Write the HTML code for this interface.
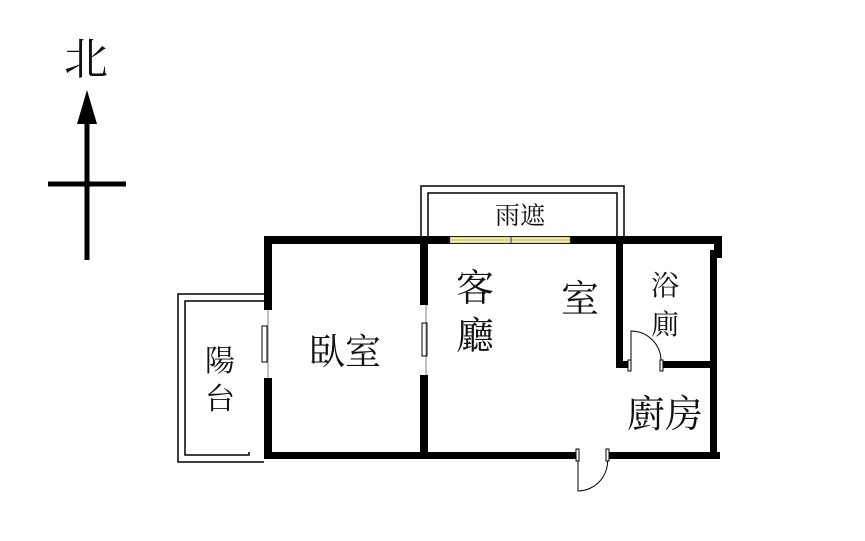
<!DOCTYPE html><html><head><meta charset="utf-8"><style>body{margin:0;background:#fff}svg{display:block}text{font-family:"Liberation Serif","Noto Serif CJK SC","Noto Sans CJK TC",serif;fill:#111}</style></head><body>
<svg width="865" height="541" viewBox="0 0 865 541">
<!-- compass -->
<text x="86" y="74" font-size="44" text-anchor="middle">北</text>
<line x1="87" y1="118" x2="87" y2="260" stroke="#000" stroke-width="5"/>
<polygon points="87,90 77,124 97,124" fill="#000"/>
<line x1="48" y1="184" x2="126" y2="184" stroke="#000" stroke-width="5"/>
<!-- canopy -->
<path d="M421,240 V186 H624 V240" fill="none" stroke="#000" stroke-width="1.5"/>
<path d="M428,240 V193 H617 V240" fill="none" stroke="#000" stroke-width="1.5"/>
<!-- balcony -->
<path d="M264,294 H178 V462 H264" fill="none" stroke="#000" stroke-width="1.5"/>
<path d="M264,301 H185 V455 H249 V452" fill="none" stroke="#000" stroke-width="1.5"/>
<g fill="#000">
<!-- top wall -->
<rect x="264" y="236" width="180" height="8"/>
<rect x="576" y="236" width="146" height="8"/>
<rect x="714" y="236" width="8" height="22"/>
<!-- left wall -->
<rect x="264" y="236" width="8" height="74"/>
<rect x="264" y="378" width="8" height="81"/>
<!-- middle wall -->
<rect x="420" y="236" width="8" height="69"/>
<rect x="420" y="375" width="8" height="84"/>
<!-- bottom -->
<rect x="264" y="452" width="314" height="7"/>
<rect x="608" y="452" width="112" height="7"/>
<!-- right -->
<rect x="710" y="250" width="7" height="209"/>
<!-- bath -->
<rect x="616" y="244" width="7" height="124"/>
<rect x="616" y="361" width="12" height="7"/>
<rect x="663" y="361" width="50" height="7"/>
</g>
<!-- window -->
<rect x="444" y="236" width="132" height="8" fill="#000"/>
<rect x="450" y="237" width="120" height="6" fill="#f3f0a0" stroke="#888" stroke-width="0.5"/>
<line x1="450" y1="240" x2="570" y2="240" stroke="#777" stroke-width="0.6"/>
<line x1="511" y1="237" x2="511" y2="243" stroke="#333" stroke-width="1"/>
<!-- door symbols -->
<rect x="262" y="326" width="5" height="36" fill="#fff" stroke="#000" stroke-width="1"/>
<line x1="268" y1="310" x2="268" y2="378" stroke="#000" stroke-width="0.5"/>
<rect x="422" y="323" width="5" height="33" fill="#fff" stroke="#000" stroke-width="1"/>
<line x1="426" y1="305" x2="426" y2="375" stroke="#000" stroke-width="0.5"/>
<path d="M631,368 V331 A30,30 0 0 1 661,361" fill="none" stroke="#000" stroke-width="1"/>
<rect x="628" y="360" width="3" height="11" fill="#fff" stroke="#000" stroke-width="1"/>
<rect x="660" y="360" width="3" height="11" fill="#fff" stroke="#000" stroke-width="1"/>
<path d="M578,455 V491 A30,30 0 0 0 607,455" fill="none" stroke="#000" stroke-width="1"/>
<rect x="576" y="449" width="3" height="12" fill="#fff" stroke="#000" stroke-width="1"/>
<rect x="606" y="449" width="3" height="12" fill="#fff" stroke="#000" stroke-width="1"/>
<!-- labels -->
<text x="520" y="224" font-size="25" text-anchor="middle">雨遮</text>
<text x="475" y="301" font-size="38" text-anchor="middle">客</text>
<text x="475" y="349" font-size="38" text-anchor="middle">廳</text>
<text x="580" y="312" font-size="38" text-anchor="middle">室</text>
<text x="345" y="364" font-size="36" text-anchor="middle">臥室</text>
<text x="220" y="371" font-size="30" text-anchor="middle">陽</text>
<text x="220" y="409" font-size="30" text-anchor="middle">台</text>
<text x="665" y="295" font-size="28" text-anchor="middle">浴</text>
<text x="665" y="334" font-size="28" text-anchor="middle">廁</text>
<text x="665" y="427" font-size="38" text-anchor="middle">廚房</text>
</svg>
</body></html>
